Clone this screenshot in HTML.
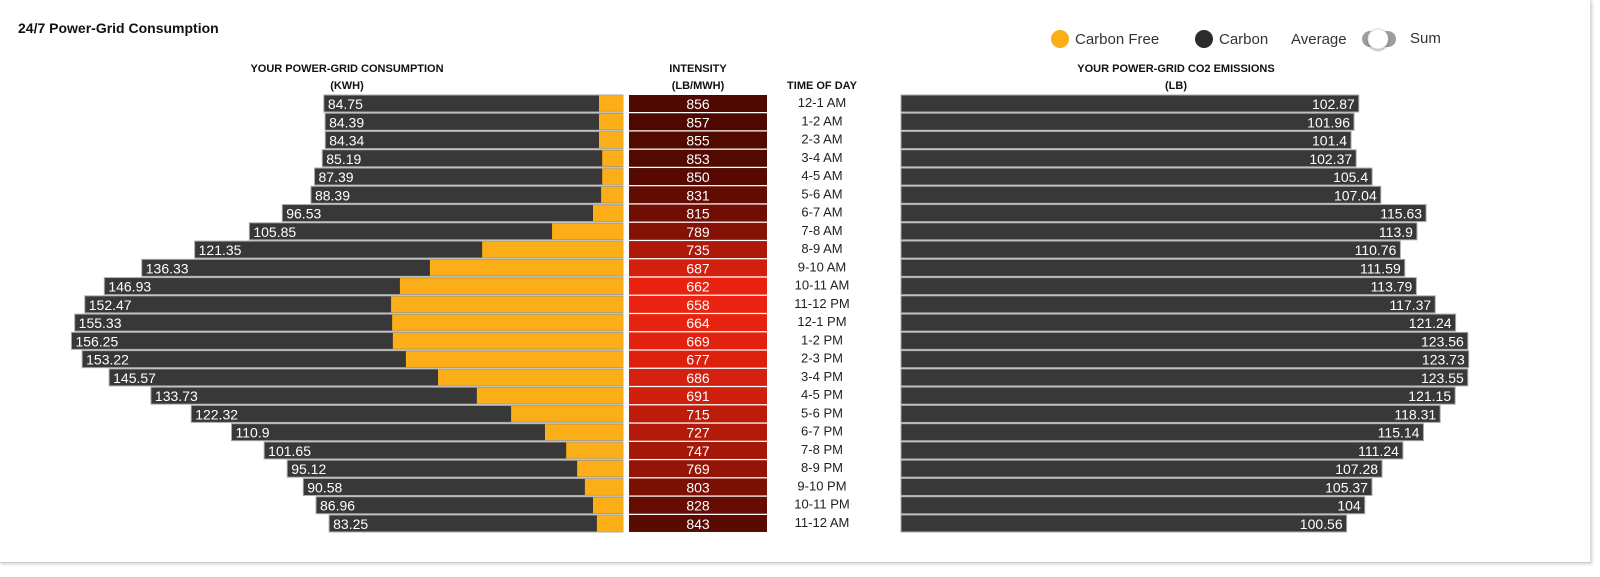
<!DOCTYPE html>
<html><head><meta charset="utf-8"><style>
body{margin:0;background:#fff;font-family:"Liberation Sans",sans-serif;}
#wrap{position:relative;width:1600px;height:577px;overflow:hidden;}
#frame{position:absolute;left:0;top:0;width:1590px;height:562px;border-right:1px solid #ddd;border-bottom:1px solid #ccc;box-shadow:1px 1px 3px #ccc;}
</style></head><body>
<div id="wrap">
<div id="frame"></div>
<svg id="chart" width="1600" height="577" style="position:absolute;left:0;top:0">
<text x="18" y="33" font-size="14" font-weight="bold" fill="#111">24/7 Power-Grid Consumption</text>
<g>
<circle cx="1060" cy="39" r="9" fill="#fbae17"/>
<text x="1075" y="44" font-size="15" fill="#333">Carbon Free</text>
<circle cx="1204" cy="39" r="9" fill="#2b2b2b"/>
<text x="1219" y="44" font-size="15" fill="#333">Carbon</text>
<text x="1291" y="44" font-size="15" fill="#333">Average</text>
<g>
<rect x="1362" y="31" width="34" height="16" rx="8" fill="#9e9e9e"/>
<circle cx="1348" cy="39" r="10" fill="#fff" stroke="#ddd" transform="translate(30,0)" style="filter:drop-shadow(0 1px 1px rgba(0,0,0,.4))"/>
</g>
<text x="1410" y="43" font-size="15" fill="#333">Sum</text>
</g>
<g font-size="11" font-weight="bold" fill="#111" text-anchor="middle">
<text x="347" y="72">YOUR POWER-GRID CONSUMPTION</text>
<text x="347" y="89">(KWH)</text>
<text x="698" y="72">INTENSITY</text>
<text x="698" y="89">(LB/MWH)</text>
<text x="822" y="89">TIME OF DAY</text>
<text x="1176" y="72">YOUR POWER-GRID CO2 EMISSIONS</text>
<text x="1176" y="89">(LB)</text>
</g>
<g id="rows"></g>
</svg>
</div>
<script>
const hours=["12-1 AM","1-2 AM","2-3 AM","3-4 AM","4-5 AM","5-6 AM","6-7 AM","7-8 AM","8-9 AM","9-10 AM","10-11 AM","11-12 PM","12-1 PM","1-2 PM","2-3 PM","3-4 PM","4-5 PM","5-6 PM","6-7 PM","7-8 PM","8-9 PM","9-10 PM","10-11 PM","11-12 AM"];
const consumption=[84.75,84.39,84.34,85.19,87.39,88.39,96.53,105.85,121.35,136.33,146.93,152.47,155.33,156.25,153.22,145.57,133.73,122.32,110.9,101.65,95.12,90.58,86.96,83.25];
const carbonFree=[6.8,6.8,6.8,5.9,5.9,6.2,8.5,20.1,39.9,54.7,63.2,65.7,65.4,65.2,61.5,52.4,41.4,31.7,22.1,16.1,13.0,10.8,8.5,7.4];
const intensity=[856,857,855,853,850,831,815,789,735,687,662,658,664,669,677,686,691,715,727,747,769,803,828,843];
const emissions=[102.87,101.96,101.4,102.37,105.4,107.04,115.63,113.9,110.76,111.59,113.79,117.37,121.24,123.56,123.73,123.55,121.15,118.31,115.14,111.24,107.28,105.37,104,100.56];
const NS="http://www.w3.org/2000/svg";
const g=document.getElementById('rows');
const rowY=i=>95+i*18.26, BH=17;
const xL=v=>623-v*3.53;
const xR=v=>901+(v-16)*5.27;
function col(v){let t=Math.max(0,Math.min(1,(860-v)/(860-655)));
 const a=[77,8,0],b=[236,36,16];return `rgb(${a.map((c,k)=>Math.round(c+(b[k]-c)*t)).join(',')})`;}
function mk(tag,at,txt){const e=document.createElementNS(NS,tag);for(const k in at)e.setAttribute(k,at[k]);if(txt!=null)e.textContent=txt;g.appendChild(e);return e;}
hours.forEach((h,i)=>{
 const y=rowY(i);
 let e=mk('rect',{x:xL(consumption[i]),y:y,width:623-xL(consumption[i]),height:BH,fill:'#383838',stroke:'#aaa','stroke-width':1});
 
 
 e=mk('rect',{x:xL(carbonFree[i]),y:y+0.5,width:623-xL(carbonFree[i]),height:BH-1,fill:'#fbae17'});
 
 
 e=mk('text',{x:xL(consumption[i])+4,y:y+14,'font-size':14,fill:'#fff'},consumption[i]);
 
 
 e=mk('rect',{x:629,y:y,width:138,height:BH,fill:col(intensity[i])});
 
 
 e=mk('text',{x:698,y:y+14,'font-size':14,fill:'#fff','text-anchor':'middle'},intensity[i]);
 
 
 e=mk('text',{x:822,y:y+12,'font-size':13,fill:'#222','text-anchor':'middle'},h);
 
 
 e=mk('rect',{x:901,y:y,width:xR(emissions[i])-901,height:BH,fill:'#383838',stroke:'#aaa','stroke-width':1});
 
 
 e=mk('text',{x:xR(emissions[i])-4,y:y+14,'font-size':14,fill:'#fff','text-anchor':'end'},emissions[i]);
 
 
});
</script>
</body></html>
